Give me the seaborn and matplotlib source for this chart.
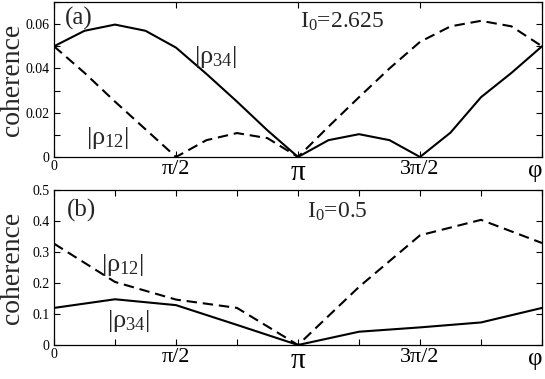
import numpy as np
import pandas as pd
import matplotlib
matplotlib.use("Agg")
import matplotlib.pyplot as plt
import seaborn as sns

# datos: fase en unidades de pi/8 (panel a) y pi/4 (panel b)
fase_a = [0, 1, 2, 3, 4, 5, 6, 7, 8, 9, 10, 11, 12, 13, 14, 15, 16]
rho34_a = [0.050, 0.057, 0.0598, 0.057, 0.0494, 0.0375, 0.025, 0.012, 0.0,
           0.0076, 0.0103, 0.0076, 0.0, 0.011, 0.027, 0.038, 0.050]
rho12_a = [0.050, 0.038, 0.025, 0.0125, 0.0, 0.0076, 0.0108, 0.0085, 0.0,
           0.0137, 0.027, 0.040, 0.052, 0.059, 0.0615, 0.059, 0.050]

fase_b = [0, 1, 2, 3, 4, 5, 6, 7, 8]
rho34_b = [0.12, 0.148, 0.129, 0.065, 0.0, 0.043, 0.057, 0.073, 0.12]
rho12_b = [0.328, 0.204, 0.147, 0.12, 0.0, 0.188, 0.355, 0.405, 0.33]

etiquetas_x = ['0', 'π/2', 'π', '3π/2', 'φ']
tam_x = [10, 16, 21, 16, 18]

sns.set_style("ticks")
plt.rcParams['font.family'] = ['Liberation Serif', 'DejaVu Serif']
plt.rcParams['mathtext.fontset'] = 'custom'
plt.rcParams['mathtext.rm'] = 'Liberation Serif'
plt.rcParams['mathtext.default'] = 'regular'

df_a = pd.DataFrame({'phi': np.array(fase_a) * np.pi / 8, 'r34': rho34_a, 'r12': rho12_a})
df_b = pd.DataFrame({'phi': np.array(fase_b) * np.pi / 4, 'r34': rho34_b, 'r12': rho12_b})

fig = plt.figure(figsize=(5.45, 3.79), dpi=100)
ax1 = fig.add_axes([0.0991, 0.5858, 0.8954, 0.4089])
ax2 = fig.add_axes([0.0991, 0.0897, 0.8954, 0.4077])


def dibujar(ax, df):
    sns.lineplot(data=df, x='phi', y='r34', ax=ax, color='black', lw=1.5)
    sns.lineplot(data=df, x='phi', y='r12', ax=ax, color='black', lw=1.5,
                 linestyle='--')
    ax.get_lines()[-1].set_dashes([5, 2.8])
    ax.set_xlim(0, 2 * np.pi)
    ax.set_xlabel('')
    ax.set_ylabel('coherence', fontsize=20)
    ax.yaxis.set_label_coords(-0.06, 0.5)
    for s in ax.spines.values():
        s.set_linewidth(0.9)
        s.set_color('black')
    ax.tick_params(direction='in', top=True, right=True, length=4, width=0.8,
                   colors='black')
    ax.tick_params(axis='y', labelsize=10, pad=3)
    ax.tick_params(axis='x', pad=2)


def ajustar_x(etiquetas):
    visibles = [l for l in etiquetas if l.get_text()]
    for t, s in zip(visibles, tam_x):
        t.set_fontsize(s)
    visibles[-1].set_horizontalalignment('right')


# (a)
dibujar(ax1, df_a)
ax1.set_ylim(0, 0.07)
ax1.set_xticks([0, np.pi / 2, np.pi, 3 * np.pi / 2, 2 * np.pi])
ax1.set_yticks([0, 0.01, 0.02, 0.03, 0.04, 0.05, 0.06, 0.07])
ax1.set_yticklabels(['0', '', '0.02', '', '0.04', '', '0.06', ''])
ax1.set_xticklabels(etiquetas_x)
ajustar_x(ax1.get_xticklabels())
ax1.text(0.142, 0.0625, '(a)', fontsize=18, va='center')
ax1.text(3.17, 0.0584, 'I$_0$=2.625', fontsize=17, va='baseline')
ax1.text(1.80, 0.0452, '|ρ$_{34}$|', fontsize=19, va='center')
ax1.text(0.41, 0.0085, '|ρ$_{12}$|', fontsize=19, va='center')

# (b)
dibujar(ax2, df_b)
ax2.set_ylim(0, 0.5)
ax2.set_xticks(np.array(fase_b) * np.pi / 4)
ax2.set_xticklabels(['0', '', 'π/2', '', 'π', '', '3π/2', '', 'φ'])
ajustar_x(ax2.get_xticklabels())
ax2.set_yticks([0, 0.1, 0.2, 0.3, 0.4, 0.5])
ax2.set_yticklabels(['0', '0.1', '0.2', '0.3', '0.4', '0.5'])
ax2.text(0.167, 0.435, '(b)', fontsize=18, va='center')
ax2.text(3.26, 0.413, 'I$_0$=0.5', fontsize=17, va='baseline')
ax2.text(0.61, 0.258, '|ρ$_{12}$|', fontsize=19, va='center')
ax2.text(0.68, 0.077, '|ρ$_{34}$|', fontsize=19, va='center')

fig.savefig('out.png', dpi=100)
